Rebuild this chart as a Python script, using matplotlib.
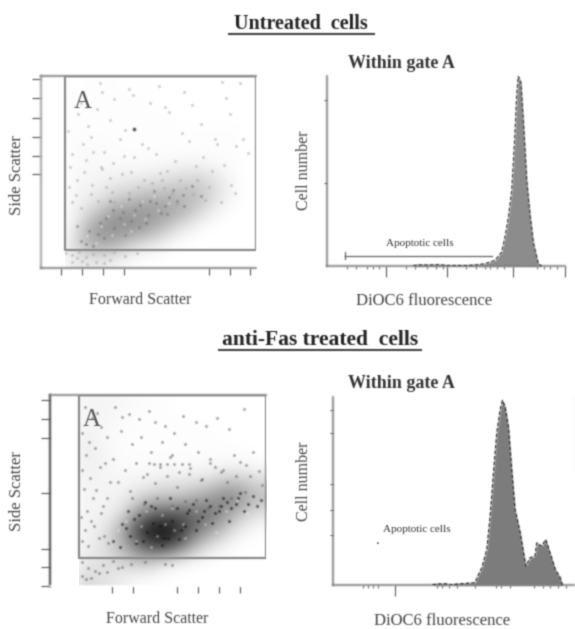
import numpy as np
import matplotlib
matplotlib.use("Agg")
import matplotlib.pyplot as plt
from matplotlib.lines import Line2D
from matplotlib.patches import Rectangle

W, H = 575, 629

# density of the scatter clouds, rows go from bottom to top (0-10 darkness)
cloud_untreated = [
    [0, 0, 0.8, 0.8, 0.8, 0.5, 0.2, 0, 0, 0, 0, 0, 0, 0, 0, 0],
    [0, 0, 1.5, 3.0, 3.4, 3.0, 2.0, 1.2, 0.8, 0.2, 0, 0, 0, 0, 0, 0],
    [0, 0, 0.8, 3.0, 4.2, 4.4, 4.3, 4.0, 3.0, 2.0, 0.8, 0.3, 0, 0, 0, 0],
    [0, 0, 0.5, 1.4, 2.6, 3.8, 4.0, 4.0, 4.0, 3.6, 3.0, 1.8, 0.8, 0.2, 0, 0],
    [0, 0, 0.4, 0.6, 1.0, 1.6, 2.0, 2.6, 2.8, 2.8, 2.8, 2.6, 1.8, 0.8, 0.2, 0],
    [0, 0, 0.3, 0.4, 0.5, 0.7, 0.8, 0.9, 1.1, 1.4, 1.6, 1.8, 1.4, 0.7, 0.2, 0],
    [0, 0, 0.2, 0.3, 0.2, 0.2, 0.2, 0.2, 0.2, 0.3, 0.4, 0.4, 0.3, 0.2, 0.1, 0],
    [0, 0, 0.2, 0.2, 0.2, 0.1, 0.1, 0.1, 0.1, 0.1, 0.1, 0.1, 0.1, 0.1, 0.1, 0],
    [0, 0, 0.1, 0.1, 0.1, 0.1, 0.1, 0.1, 0.1, 0.1, 0.1, 0.1, 0.1, 0.1, 0.1, 0],
    [0, 0, 0.1, 0.1, 0.1, 0.1, 0.1, 0.1, 0.1, 0.1, 0, 0, 0, 0, 0, 0],
    [0, 0, 0.1, 0.1, 0.1, 0.1, 0.1, 0.1, 0, 0, 0, 0, 0, 0, 0, 0],
    [0, 0, 0, 0.1, 0.1, 0.1, 0, 0.1, 0, 0, 0, 0, 0, 0, 0, 0],
]
cloud_fas = [
    [0, 0, 1.6, 1.2, 1.0, 0.5, 0.2, 0.1, 0, 0, 0, 0, 0, 0, 0, 0],
    [0, 0, 0.8, 1.2, 1.4, 1.8, 2.2, 2.0, 1.0, 0.5, 0.2, 0, 0, 0, 0, 0],
    [0, 0, 0.6, 0.8, 1.8, 3.2, 5.4, 7.0, 7.2, 5.6, 3.2, 1.5, 0.6, 0.2, 0, 0],
    [0, 0, 0.5, 0.7, 1.6, 4.0, 7.2, 9.2, 9.6, 8.2, 6.0, 4.2, 2.8, 1.2, 0.4, 0.1],
    [0, 0, 0.5, 0.5, 0.7, 1.8, 4.4, 6.0, 6.4, 6.6, 6.0, 5.6, 4.6, 3.0, 1.8, 1.0],
    [0, 0, 0.4, 0.4, 0.5, 0.7, 1.6, 2.4, 2.6, 2.6, 3.2, 3.8, 4.6, 4.8, 3.4, 2.6],
    [0, 0, 0.5, 0.5, 0.4, 0.4, 0.5, 0.6, 1.0, 1.0, 1.2, 1.5, 2.2, 2.6, 2.2, 1.6],
    [0, 0, 0.6, 0.5, 0.3, 0.2, 0.2, 0.2, 0.2, 0.2, 0.2, 0.3, 0.3, 0.4, 0.3, 0.2],
    [0, 0, 0.7, 0.5, 0.3, 0.1, 0.1, 0.1, 0.1, 0.1, 0.1, 0.1, 0.1, 0.1, 0.1, 0],
    [0, 0, 0.6, 0.4, 0.2, 0.1, 0.1, 0.1, 0.1, 0.1, 0.1, 0.1, 0.1, 0, 0, 0],
    [0, 0, 0.5, 0.4, 0.3, 0.2, 0.1, 0.1, 0.1, 0.1, 0.1, 0, 0, 0, 0, 0],
    [0, 0, 0.4, 0.4, 0.4, 0.3, 0.2, 0.1, 0.1, 0, 0, 0, 0, 0, 0, 0],
]

# stray events outside the clouds
dots_untreated_x = [280, 290, 190, 420, 440, 560, 590, 680, 860, 950, 130, 175, 225, 265, 330, 350, 400, 520,
                    610, 670, 720, 760, 830, 880, 150, 200, 240, 300, 345, 375, 445, 480, 510, 565, 640, 705,
                    770, 840, 900, 960, 140, 170, 215, 250, 290, 330, 395, 430, 490, 550, 600, 660, 740, 800,
                    870, 930, 985, 135, 165, 205, 245, 285, 340, 385, 460, 530, 575, 625, 690, 745, 815, 905,
                    150, 190, 240, 270, 310, 350, 420, 470, 585, 650, 725, 780, 855, 925,
                    120, 150, 180, 215, 250, 300, 350, 400, 455, 150, 195, 260, 330, 170, 220, 300]
dots_untreated_y = [985, 940, 880, 955, 925, 970, 860, 940, 990, 985, 730, 820, 760, 850, 790, 900, 735, 880,
                    830, 720, 870, 770, 690, 905, 610, 660, 700, 620, 560, 690, 590, 660, 640, 505, 570, 680,
                    590, 660, 820, 690, 540, 470, 575, 620, 530, 480, 595, 510, 470, 610, 520, 470, 545, 430,
                    550, 650, 615, 430, 390, 510, 445, 540, 405, 500, 430, 455, 470, 400, 425, 470, 520, 445,
                    350, 320, 395, 360, 430, 350, 400, 355, 425, 340, 395, 365, 350, 400,
                    80, 70, 85, 60, 75, 70, 85, 65, 80, 30, 35, 30, 45, 55, 20, 25]
dots_fas_x = [165, 200, 240, 150, 185, 225, 270, 170, 215, 260, 150, 190, 235, 285, 160, 205, 250, 175, 220, 270,
              145, 195, 240, 165, 210, 255, 150, 180, 230, 275, 310, 340, 375, 420, 470, 500, 545, 590, 630, 690,
              740, 790, 850, 920, 960, 335, 390, 430, 480, 530, 580, 640, 700, 760, 810, 870, 930, 990, 300, 355,
              410, 460, 520, 570, 610, 665, 720, 780, 840, 900, 950, 1005, 320, 380, 440, 500, 555, 600, 660, 715,
              470, 495, 520, 555, 590, 625, 660, 760, 820, 880, 390, 445, 505, 580, 640, 690, 750, 800, 860, 925,
              150, 180, 215, 250, 300, 340, 385, 150, 170, 195, 230, 270, 320, 450, 545, 580]
dots_fas_y = [960, 900, 850, 820, 770, 930, 800, 700, 740, 660, 620, 580, 640, 560, 520, 470, 430, 400, 515, 470,
              370, 350, 390, 300, 320, 270, 240, 215, 260, 230, 960, 905, 920, 895, 940, 880, 860, 820, 910, 880,
              860, 900, 840, 950, 720, 830, 760, 800, 720, 770, 700, 760, 720, 680, 610, 700, 650, 615, 680, 620,
              660, 600, 640, 690, 610, 630, 575, 640, 560, 665, 590, 540, 560, 510, 585, 550, 590, 530, 600, 570,
              658, 654, 656, 655, 652, 656, 655, 660, 620, 590, 470, 440, 470, 430, 455, 460, 420, 430, 470, 505,
              130, 95, 80, 110, 135, 100, 120, 55, 40, 45, 70, 75, 95, 130, 120, 115]

# grain on top of the clouds, dark and white specks
grain_untreated_x = [190, 230, 270, 310, 350, 390, 430, 470, 510, 550, 590, 630, 675, 720, 250, 300, 345, 400,
                     450, 500, 540, 600, 650, 170, 215, 280, 330, 375, 420, 465, 520, 570, 610, 680, 760]
grain_untreated_y = [145, 200, 180, 265, 215, 300, 250, 335, 285, 345, 330, 415, 390, 440, 120, 160, 310, 175,
                     310, 240, 410, 290, 360, 225, 130, 240, 355, 265, 370, 220, 360, 295, 380, 330, 385]
grain_fas_x = [300, 340, 380, 420, 460, 500, 540, 580, 620, 660, 700, 740, 780, 820, 860, 900, 940, 980, 330,
               370, 410, 450, 490, 530, 570, 610, 650, 690, 730, 770, 810, 850, 890, 360, 400, 440, 480, 520,
               560, 600, 640, 680, 720, 760, 800, 840, 880, 920, 960, 1000]
grain_fas_y = [240, 330, 270, 380, 290, 420, 260, 350, 300, 410, 350, 460, 390, 470, 420, 500, 440, 430, 210,
               400, 230, 450, 340, 220, 470, 250, 390, 300, 400, 340, 430, 350, 470, 310, 360, 240, 430, 320,
               260, 420, 320, 440, 370, 430, 400, 450, 440, 400, 480, 460]
white_fas_x = [320, 360, 410, 455, 505, 545, 590, 640, 690, 735, 785, 835, 885, 935, 430, 480, 530, 580, 630]
white_fas_y = [300, 350, 240, 400, 270, 330, 300, 260, 400, 330, 290, 400, 460, 390, 320, 210, 380, 420, 330]
white_untreated_x = [220, 285, 340, 395, 445, 495, 555, 610, 260, 320, 380, 430, 480, 540]
white_untreated_y = [170, 225, 175, 235, 285, 260, 310, 345, 135, 280, 330, 195, 360, 385]

# single dark event in the untreated panel
lone_x = [445]
lone_y = [739]

# histograms, channel and percent of the axis height
hist_untreated_x = [370, 390, 430, 480, 520, 600, 637, 680, 723, 752, 766, 781, 795, 809, 816, 823, 834, 845, 859,
                    874, 888, 909, 924]
hist_untreated_y = [0, 0.6, 0.5, 0.7, 0.2, 0.2, 0.5, 1.2, 3, 7.4, 15.3, 26, 40, 70, 89.4, 100, 96.5, 75, 45,
                    26, 12, 1, 0]
hist_fas_x = [420, 440, 480, 490, 531, 601, 613, 630, 651, 665, 679, 693, 707, 717, 728, 742, 756, 770, 792, 806,
              816, 834, 855, 862, 883, 900, 918, 940, 961, 970]
hist_fas_y = [0, 0.5, 0.6, 0, 0.5, 1.2, 4.8, 9.2, 18.9, 36.5, 59.4, 80.6, 93, 98.2, 94.7, 84, 61, 40, 27.7, 17,
              10, 14.5, 15.3, 22.4, 20.6, 24.2, 17, 8.3, 3.9, 0]

# gates and ticks
gate_untreated = (114, 96)
gate_fas = (137, 150)
side_ticks_untreated = [499, 596, 698, 798, 905, 1010]
fwd_ticks_untreated = [95, 194, 294, 395, 802, 900, 996]
side_ticks_fas = [0, 100, 199, 498, 796, 897, 997]
fwd_ticks_fas = [295, 392, 601, 702, 800, 899]
count_ticks_untreated = [43.9, 87.6]
channel_major_untreated = [255, 518, 802, 1024]
channel_minor_untreated = [85, 125, 170, 200, 225, 340, 380, 430, 470, 500, 600, 640, 680, 700, 730, 760, 905, 935,
                           960, 990]
count_ticks_fas = [26.8, 39.7, 53.6, 80.6, 93]
channel_major_fas = [263]
channel_minor_fas = [125, 148, 168, 190, 440, 460, 489, 525, 600, 690, 712, 750, 850, 890, 920, 950, 985]


def soften(img, dpi):
    # the reference is a blurry scan, so smear whatever was drawn
    pad = 3
    img = np.pad(img, ((pad, pad), (pad, pad), (0, 0)))
    a = img[..., 3]
    pre = np.dstack([img[..., 0] * a, img[..., 1] * a, img[..., 2] * a, a])
    kernel = [0.2, 0.6, 0.2]
    for axis in (0, 1):
        pre = sum(k * np.roll(pre, s, axis=axis) for k, s in zip(kernel, (-1, 0, 1)))
    alpha = np.maximum(pre[..., 3], 1e-4)
    out = np.dstack([pre[..., 0] / alpha, pre[..., 1] / alpha, pre[..., 2] / alpha, pre[..., 3]])
    return np.clip(out, 0, 1), -pad, -pad


def make_axes(fig, left, top, right, bottom):
    ax = fig.add_axes([left / W, 1 - bottom / H, (right - left) / W, (bottom - top) / H])
    ax.patch.set_visible(False)
    ax.set_xlim(0, 1024)
    for s in ax.spines.values():
        s.set_visible(False)
    return ax


def px_text(fig, x, y, s, **kw):
    kw.setdefault("ha", "center")
    kw.setdefault("va", "center")
    kw.setdefault("color", "#444444")
    fig.text(x / W, 1 - y / H, s, **kw)


def px_line(fig, x0, y0, x1, y1, color, lw):
    fig.add_artist(Line2D([x0 / W, x1 / W], [1 - y0 / H, 1 - y1 / H], color=color, lw=lw,
                          transform=fig.transFigure))


def scatter_panel(fig, rect, cloud, dots, grain, white, gate, yticks, xticks, spine_left, spine_bottom, top_color,
                  dot_color, grain_color):
    ax = make_axes(fig, *rect)
    ax.set_ylim(0, 1024)
    gx, gy = gate
    im = ax.imshow(cloud, origin="lower", extent=(0, 1024, 0, 1024), cmap="gray_r", vmin=0, vmax=10,
                   interpolation="bicubic", aspect="auto", zorder=1)
    im.set_clip_path(Rectangle((gx, 0), 1024 - gx, 1024, transform=ax.transData))
    ax.scatter(dots[0], dots[1], s=2.4, color=dot_color, linewidths=0, zorder=2)
    ax.scatter(grain[0], grain[1], s=3, color=grain_color, linewidths=0, zorder=2)
    ax.scatter(white[0], white[1], s=3, color="#ffffff", alpha=0.55, linewidths=0, zorder=2)
    ax.plot([gx, gx, 1024, 1024, gx], [1024, gy, gy, 1024, 1024], color="#8a8a8a", lw=1.6, zorder=3)
    ax.spines["left"].set_visible(True)
    ax.spines["left"].set_color(spine_left)
    ax.spines["left"].set_linewidth(1.6)
    ax.spines["bottom"].set_visible(True)
    ax.spines["bottom"].set_color(spine_bottom)
    ax.spines["bottom"].set_linewidth(1.2)
    ax.spines["top"].set_visible(True)
    ax.spines["top"].set_color(top_color)
    ax.spines["top"].set_linewidth(1.4)
    ax.set_yticks(yticks, [""] * len(yticks))
    ax.set_xticks(xticks, [""] * len(xticks))
    ax.tick_params(axis="y", length=6.5, width=0.9, color="#666666")
    ax.tick_params(axis="x", length=5, width=0.9, color="#666666", direction="out")
    return ax


def hist_panel(fig, rect, xs, ys, fill, edge, major, minor, yticks):
    ax = make_axes(fig, *rect)
    ax.set_ylim(0, 100)
    ax.fill_between(xs, ys, color=fill, lw=0, zorder=2)
    ax.plot(xs, ys, color=edge, lw=0.9, ls=(0, (3, 1.5)), zorder=3)
    ax.spines["left"].set_visible(True)
    ax.spines["left"].set_color("#777777")
    ax.spines["left"].set_linewidth(1.2)
    ax.spines["bottom"].set_visible(True)
    ax.spines["bottom"].set_color("#777777")
    ax.spines["bottom"].set_linewidth(1.2)
    ax.set_yticks(yticks, [""] * len(yticks))
    ax.set_xticks(major, [""] * len(major))
    ax.set_xticks(minor, minor=True)
    ax.tick_params(axis="y", length=2, width=0.8, color="#666666")
    ax.tick_params(axis="x", which="major", length=8, width=0.9, color="#666666")
    ax.tick_params(axis="x", which="minor", length=2, width=0.8, color="#777777")
    return ax


plt.rcParams["font.family"] = ["Liberation Serif", "DejaVu Serif"]
fig = plt.figure(figsize=(W / 100, H / 100), dpi=100)

ax1 = scatter_panel(fig, (41, 76, 256, 268), cloud_untreated, (dots_untreated_x, dots_untreated_y),
                    (grain_untreated_x, grain_untreated_y), (white_untreated_x, white_untreated_y), gate_untreated,
                    side_ticks_untreated, fwd_ticks_untreated, "#aaaaaa", "#777777", "#8a8a8a", "#a0a0a0", "#777777")
ax1.scatter(lone_x, lone_y, s=6, color="#333333", linewidths=0, zorder=2)
scatter_panel(fig, (50, 395, 266, 586), cloud_fas, (dots_fas_x, dots_fas_y),
              (grain_fas_x, grain_fas_y), (white_fas_x, white_fas_y), gate_fas,
              side_ticks_fas, fwd_ticks_fas, "#555555", "#ffffff", "#8a8a8a", "#555555", "#111111")
hist_panel(fig, (327, 76, 565, 266), hist_untreated_x, hist_untreated_y, "#8c8c8c", "#444444",
           channel_major_untreated, channel_minor_untreated, count_ticks_untreated)
hist_panel(fig, (333, 397, 575, 585), hist_fas_x, hist_fas_y, "#7c7c7c", "#333333",
           channel_major_fas, channel_minor_fas, count_ticks_fas)

# titles with their underlines
px_text(fig, 301, 24, "Untreated  cells", fontsize=14.5, fontweight="bold", color="#222222")
px_line(fig, 229, 33.5, 374, 33.5, "#444444", 1.5)
px_text(fig, 320, 340, "anti-Fas treated  cells", fontsize=15.5, fontweight="bold", color="#222222")
px_line(fig, 219, 350, 421, 350, "#444444", 1.5)
px_text(fig, 401, 63, "Within gate A", fontsize=13, fontweight="bold", color="#333333")
px_text(fig, 401, 383, "Within gate A", fontsize=13, fontweight="bold", color="#333333")

# axis labels
px_text(fig, 140, 300, "Forward Scatter", fontsize=11.5)
px_text(fig, 157, 619, "Forward Scatter", fontsize=11.5)
px_text(fig, 17, 175, "Side Scatter", fontsize=12, rotation=90)
px_text(fig, 17, 491, "Side Scatter", fontsize=12, rotation=90)
px_text(fig, 304, 170, "Cell number", fontsize=11.5, rotation=90)
px_text(fig, 304, 481, "Cell number", fontsize=11.5, rotation=90)
px_text(fig, 424, 301, "DiOC6 fluorescence", fontsize=12)
px_text(fig, 442, 621, "DiOC6 fluorescence", fontsize=12)

# gate letters and small notes
px_text(fig, 83, 102, "A", fontsize=18, color="#555555")
px_text(fig, 92, 420, "A", fontsize=18, color="#555555")
px_text(fig, 420, 244, "Apoptotic cells", fontsize=8, color="#333333")
px_text(fig, 417, 530, "Apoptotic cells", fontsize=8, color="#333333")
px_text(fig, 378, 541, ".", fontsize=11, color="#333333")
px_line(fig, 345, 255.5, 492, 255.5, "#666666", 0.9)
px_line(fig, 345, 252, 345, 259, "#666666", 0.9)
px_line(fig, 574.5, 397, 574.5, 470, "#cccccc", 0.9)

for obj in fig.findobj():
    if obj is fig or obj in fig.axes or obj is fig.patch:
        continue
    if type(obj).__name__ in ("Text", "Line2D", "Spine", "PathCollection", "FillBetweenPolyCollection",
                              "PolyCollection"):
        obj.set_agg_filter(soften)

fig.savefig("out.png", dpi=100)
